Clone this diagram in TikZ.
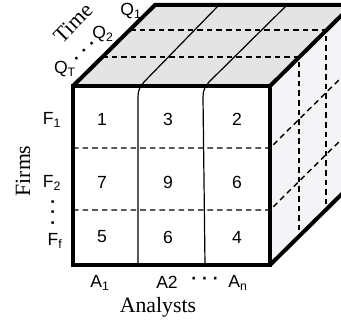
\documentclass[tikz,border=0pt]{standalone}
\usepackage{fontspec}
\setmainfont{Liberation Serif}
\newfontfamily\labelsans{Liberation Sans}
\definecolor{topgray}{RGB}{228,228,228}
\definecolor{sidegray}{RGB}{244,244,246}

\begin{document}
\begin{tikzpicture}[x=0.25mm,y=-0.25mm,
      edge/.style={line width=1mm,line join=miter},
      cut/.style={line width=0.3mm},
      grid/.style={line width=0.35mm,dash pattern=on 1.4mm off 1mm},
      cell/.style={font=\labelsans\fontsize{12.5}{14}\selectfont,inner sep=0pt},
      dots/.style={cell,font=\labelsans\bfseries\fontsize{12.5}{14}\selectfont},
      axis/.style={font=\fontsize{15.5}{18}\selectfont,inner sep=0pt}]
      \useasboundingbox (0,0) rectangle (341,322);
      \clip (0,0) rectangle (341,322);

      % Cube corners
      \coordinate (ftl) at (73,86);
      \coordinate (ftr) at (270,86);
      \coordinate (fbl) at (73,265);
      \coordinate (fbr) at (270,265);
      \coordinate (btl) at (155,5);
      \coordinate (btr) at (352,5);
      \coordinate (bbr) at (352,184);

      % Faces
      \fill[topgray]  (ftl)--(btl)--(btr)--(ftr)--cycle;
      \fill[sidegray] (ftr)--(btr)--(bbr)--(fbr)--cycle;
      \fill[white]    (ftl)--(ftr)--(fbr)--(fbl)--cycle;

      % Time slices
      \draw[grid] (130,30)--(326,30)--(326,212);
      \draw[grid] (102,57)--(299,57)--(299,238);
      % Firm rows
      \draw[grid] (73,148)--(270,148)--(352,67);
      \draw[grid] (73,210)--(270,210)--(352,129);
      % Analyst columns
      \draw[cut] (138,265)--(138,97) .. controls (138,90) and (140,87) .. (144,82)--(219,5);
      \draw[cut] (205,265)--(203,97) .. controls (203,90) and (205,87) .. (209,82)--(287,5);

      % Outline
      \draw[edge] (ftl)--(ftr)--(fbr)--(fbl)--cycle;
      \draw[edge] (ftl)--(btl)--(btr);
      \draw[edge] (ftr)--(btr);
      \draw[edge] (fbr)--(bbr);

      % Cells
      \node[cell] (c11) at (102,119) {1};
      \node[cell] (c12) at (168,119) {3};
      \node[cell] (c13) at (237,119) {2};
      \node[cell] (c21) at (102,182) {7};
      \node[cell] (c22) at (168,182) {9};
      \node[cell] (c23) at (237,182) {6};
      \node[cell] (c31) at (102,237) {5};
      \node[cell] (c32) at (168,237) {6};
      \node[cell] (c33) at (237,237) {4};

      % Axis labels
      \node[axis,rotate=45] (time) at (73,23) {Time};
      \node[cell] (q1) at (131,11) {Q\textsubscript{1}};
      \node[cell] (q2) at (103,34) {Q\textsubscript{2}};
      \node[cell] (qt) at (65,69) {Q\textsubscript{T}};
      \node[dots,rotate=45] (qdots) at (86,52) {· · ·};

      \node[axis,rotate=90] (firms) at (23,171) {Firms};
      \node[cell] (f1) at (52,120) {F\textsubscript{1}};
      \node[cell] (f2) at (52,183) {F\textsubscript{2}};
      \node[dots,rotate=90] (fdots) at (55,212) {· · ·};
      \node[cell] (ff) at (55,241) {F\textsubscript{f}};

      \node[cell] (a1) at (100,283) {A\textsubscript{1}};
      \node[cell] (a2) at (167,282) {A2};
      \node[dots] (adots) at (205,281) {· · ·};
      \node[cell] (an) at (238,283) {A\textsubscript{n}};
      \node[axis] (analysts) at (158,307) {Analysts};
    \end{tikzpicture}
\end{document}
